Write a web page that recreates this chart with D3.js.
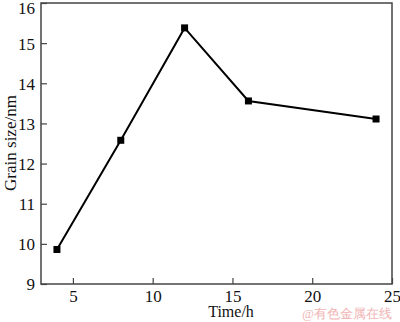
<!DOCTYPE html>
<html>
<head>
<meta charset="utf-8">
<script src="https://cdn.jsdelivr.net/npm/d3@7"></script>
<style>
  body { margin: 0; background: #fff; }
  svg text { font-family: "Liberation Serif", "Times New Roman", serif; }
</style>
</head>
<body>
<svg id="chart" width="400" height="322"></svg>
<script>
// data
const timeH = [4, 8, 12, 16, 24];
const grainSize = [9.86, 12.58, 15.38, 13.56, 13.11];
const xTicks = [5, 10, 15, 20, 25];
const yTicks = [9, 10, 11, 12, 13, 14, 15, 16];

const svg = d3.select("#chart");
const margin = {left: 41, top: 3, right: 8, bottom: 38};
const width = +svg.attr("width"), height = +svg.attr("height");

const x = d3.scaleLinear().domain([3, 25]).range([margin.left, width - margin.right]);
const y = d3.scaleLinear().domain([9, 16]).range([height - margin.bottom, margin.top]);

const axisColor = "#444";

// frame
svg.append("rect")
    .attr("x", x(3)).attr("y", y(16))
    .attr("width", x(25) - x(3)).attr("height", y(9) - y(16))
    .attr("fill", "none").attr("stroke", axisColor).attr("stroke-width", 1.5);

// bottom axis, ticks pointing in
const gx = svg.append("g")
    .attr("transform", `translate(0,${y(9)})`)
    .call(d3.axisBottom(x).tickValues(xTicks).tickFormat(d3.format("d"))
        .tickSizeInner(-6).tickSizeOuter(0).tickPadding(6));
gx.select(".domain").remove();

const gy = svg.append("g")
    .attr("transform", `translate(${x(3)},0)`)
    .call(d3.axisLeft(y).tickValues(yTicks).tickFormat(d3.format("d"))
        .tickSizeInner(-6).tickSizeOuter(0).tickPadding(6));
gy.select(".domain").remove();

svg.selectAll(".tick line").attr("stroke", axisColor).attr("stroke-width", 1.2);
svg.selectAll(".tick text")
    .attr("fill", "#111")
    .attr("font-size", 17)
    .attr("font-family", "Liberation Serif, serif");
gy.selectAll(".tick text").attr("dy", "0.35em");
gy.selectAll(".tick").filter(d => d === 16).select("text").attr("dy", "0.6em");

// axis titles
svg.append("text")
    .attr("x", 231).attr("y", 317)
    .attr("text-anchor", "middle")
    .attr("font-size", 16)
    .attr("fill", "#111")
    .text("Time/h");

svg.append("text")
    .attr("transform", "translate(16,143) rotate(-90)")
    .attr("text-anchor", "middle")
    .attr("font-size", 17)
    .attr("fill", "#111")
    .text("Grain size/nm");

// line + square markers
const pts = timeH.map((t, i) => [t, grainSize[i]]);
svg.append("path")
    .datum(pts)
    .attr("fill", "none")
    .attr("stroke", "#000")
    .attr("stroke-width", 2)
    .attr("d", d3.line().x(d => x(d[0])).y(d => y(d[1])));

svg.append("g").selectAll("rect")
    .data(pts)
    .join("rect")
    .attr("x", d => x(d[0]) - 3.5)
    .attr("y", d => y(d[1]) - 3.5)
    .attr("width", 7).attr("height", 7)
    .attr("fill", "#000");

// watermark
svg.append("text")
    .attr("x", 392).attr("y", 318)
    .attr("text-anchor", "end")
    .attr("font-family", "Noto Sans CJK SC, sans-serif")
    .attr("font-size", 13)
    .attr("fill", "#f0b4b4")
    .text("@有色金属在线");
</script>
</body>
</html>
